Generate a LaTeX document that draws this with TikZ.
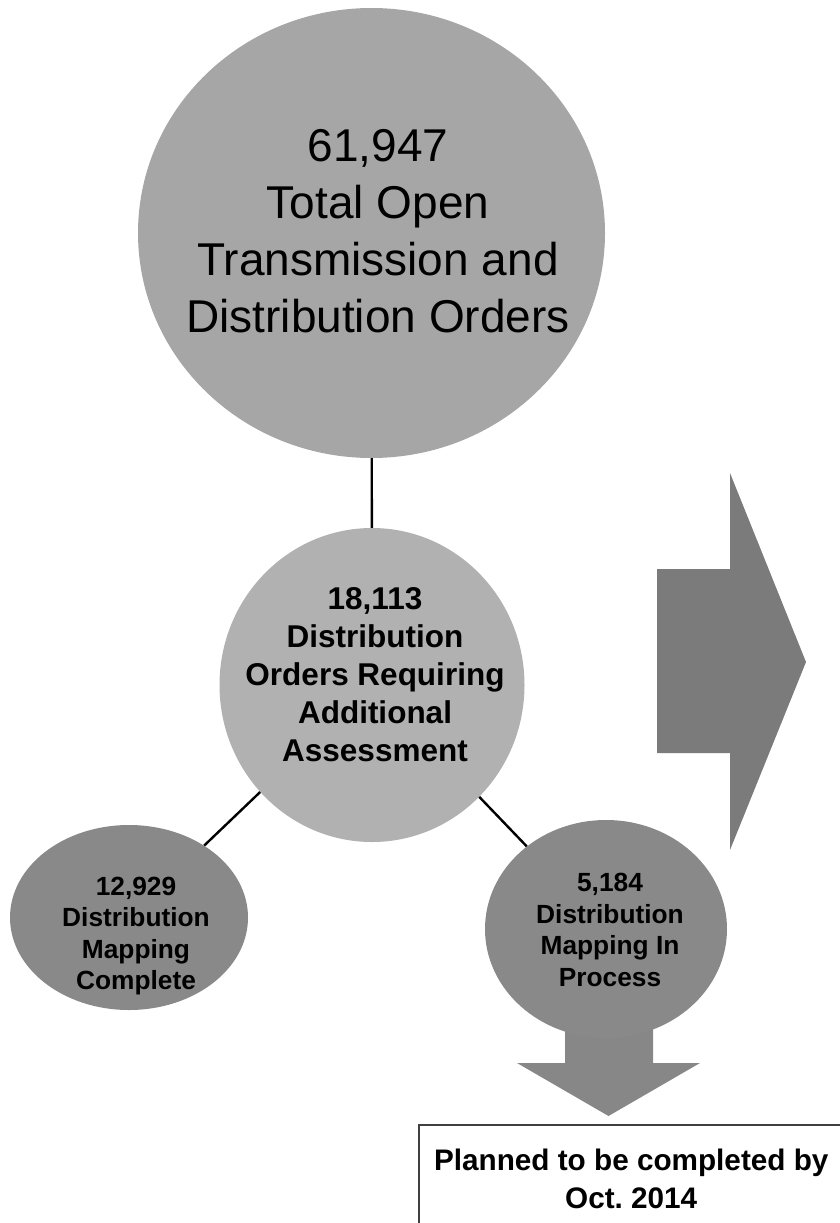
\documentclass[tikz,border=0pt]{standalone}
\usepackage{fontspec}
\setmainfont{Liberation Sans}
\usetikzlibrary{shapes.geometric}
\definecolor{bigfill}{HTML}{A6A6A6}
\definecolor{midfill}{HTML}{B1B1B1}
\definecolor{smallfill}{HTML}{898989}
\definecolor{arrowfill}{HTML}{7B7B7B}
\definecolor{downfill}{HTML}{878787}
\tikzset{
  blob/.style={ellipse, inner sep=0pt, draw=none},
  lbl/.style={inner sep=0pt, align=center, text=black},
  conn/.style={draw=black, line width=2.4pt},
  bigtext/.style={lbl, font=\fontsize{46}{57}\selectfont},
  midtext/.style={lbl, font=\bfseries\fontsize{31.5}{38}\selectfont},
  smalltext/.style={lbl, font=\bfseries\fontsize{26.3}{31.6}\selectfont},
  notebox/.style={rectangle, draw=black!75, line width=1.5pt, fill=white, align=center,
    font=\bfseries\fontsize{29.7}{38}\selectfont, inner sep=0pt}
}
\begin{document}
\begin{tikzpicture}[x=1pt, y=-1pt]
\useasboundingbox (0,0) rectangle (839,1223);
% arrows (drawn first)
\fill[arrowfill] (657,569) -- (730,569) -- (730,473) -- (806,662) -- (730,850) -- (730,753) -- (657,753) -- cycle;
\fill[downfill] (565,1015) -- (653,1015) -- (653,1063) -- (700,1063) -- (608.5,1116) -- (517,1063) -- (565,1063) -- cycle;
% circles
\node[blob, fill=bigfill, minimum width=467pt, minimum height=450pt] (total) at (371.5,233) {};
\node[blob, fill=midfill, minimum width=305pt, minimum height=314pt] (assess) at (372,685) {};
\node[blob, fill=smallfill, minimum width=238pt, minimum height=185pt] (complete) at (129,917.5) {};
\node[blob, fill=smallfill, minimum width=242pt, minimum height=218pt] (process) at (606,929) {};
% texts
\node[bigtext] (totaltext) at (378,231) {61,947\\Total Open\\Transmission and\\Distribution Orders};
\node[midtext] (assesstext) at (375,675) {18,113\\Distribution\\Orders Requiring\\Additional\\Assessment};
\node[smalltext] (completetext) at (136,936) {12,929\\Distribution\\Mapping\\Complete};
\node[smalltext] (processtext) at (610,930) {5,184\\Distribution\\Mapping In\\Process};
% connectors
\draw[conn] (total) -- (assess);
\draw[conn] (assess) -- (complete);
\draw[conn] (assess) -- (process);
% bottom box
\node[notebox, anchor=north west, minimum width=425pt, minimum height=108pt] (planned) at (418,1124) {Planned to be completed by\\Oct.\ 2014};
\end{tikzpicture}
\end{document}
